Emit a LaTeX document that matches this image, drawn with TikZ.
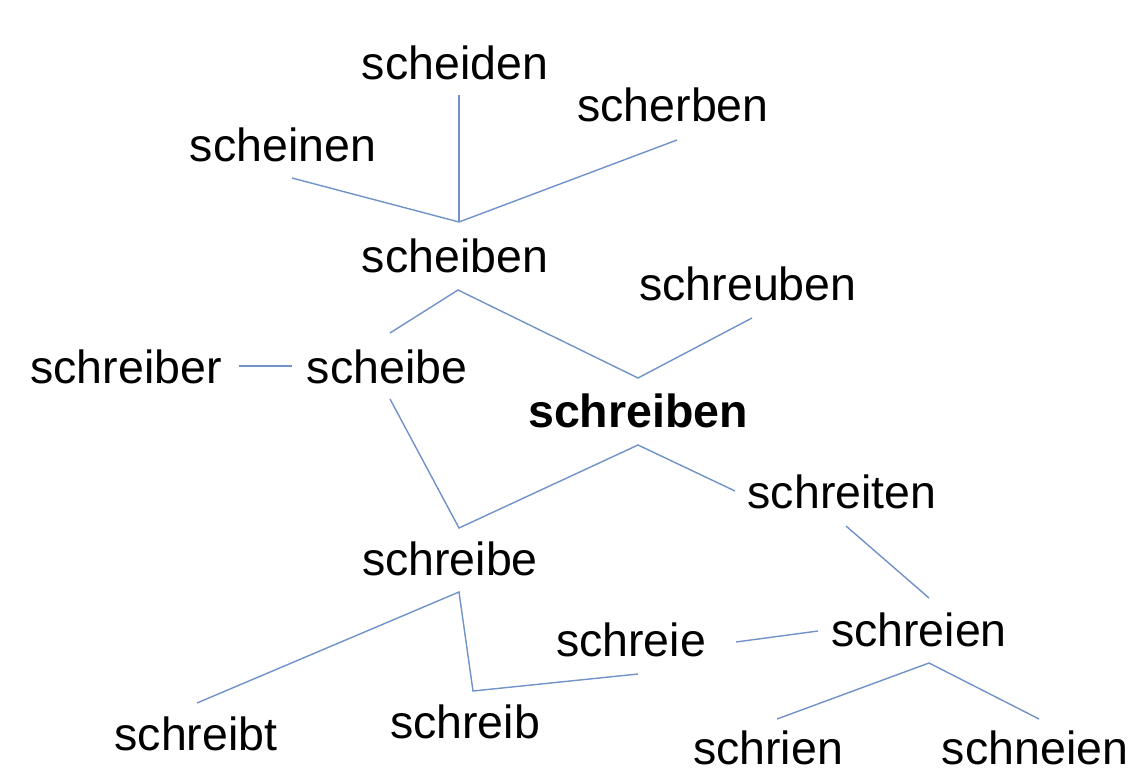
\documentclass[tikz,border=0pt]{standalone}
\usepackage{fontspec}
\setmainfont{Liberation Sans}
\definecolor{linkblue}{RGB}{112,146,200}
\begin{document}
\begin{tikzpicture}[x=1pt,y=-1pt,
  word/.style={anchor=base,inner sep=0pt,font=\fontsize{46.5}{56}\selectfont},
  link/.style={draw=linkblue,line width=1.4pt}]
\useasboundingbox (0,0) rectangle (1130,773);
% words
\node[word] (scheiden)  at (455,80)  {scheiden};
\node[word] (scherben)  at (673,122) {scherben};
\node[word] (scheinen)  at (283,161) {scheinen};
\node[word] (scheiben)  at (455,272) {scheiben};
\node[word] (schreuben) at (748,300) {schreuben};
\node[word] (schreiber) at (126,383) {schreiber};
\node[word] (scheibe)   at (387,383) {scheibe};
\node[word,font=\fontsize{46.5}{56}\selectfont\bfseries] (schreiben) at (638,427) {schreiben};
\node[word] (schreiten) at (842,508) {schreiten};
\node[word] (schreibe)  at (450,575) {schreibe};
\node[word] (schreie)   at (631,656) {schreie};
\node[word] (schreien)  at (919,646) {schreien};
\node[word] (schreibt)  at (196,750) {schreibt};
\node[word] (schreib)   at (465,738) {schreib};
\node[word] (schrien)   at (768,764) {schrien};
\node[word] (schneien)  at (1035,764) {schneien};
% connector ends
\coordinate (jA) at (459,222);
\coordinate (eScheiden) at (459,95);
\coordinate (eScheinen) at (292,178);
\coordinate (eScherben) at (677,140);
\coordinate (jB) at (458,290);
\coordinate (eScheibeU) at (390,333);
\coordinate (jC) at (638,378);
\coordinate (eSchreuben) at (752,318);
\coordinate (eSchreiber) at (239,366);
\coordinate (eScheibeL) at (292,366);
\coordinate (eScheibeD) at (390,399);
\coordinate (jD) at (459,528);
\coordinate (jE) at (638,445);
\coordinate (eSchreitenL) at (735,491);
\coordinate (eSchreitenD) at (846,526);
\coordinate (eSchreienU) at (929,598);
\coordinate (jF) at (459,592);
\coordinate (eSchreibt) at (197,703);
\coordinate (jG) at (473,691);
\coordinate (eSchreieL) at (638,674);
\coordinate (eSchreieR) at (736,642);
\coordinate (eSchreienL) at (818,631);
\coordinate (jH) at (929,663);
\coordinate (eSchrien) at (777,719);
\coordinate (eSchneien) at (1039,719);
% connectors
\draw[link] (eScheiden) -- (jA);
\draw[link] (eScheinen) -- (jA) -- (eScherben);
\draw[link] (eScheibeU) -- (jB) -- (jC) -- (eSchreuben);
\draw[link] (eSchreiber) -- (eScheibeL);
\draw[link] (eScheibeD) -- (jD) -- (jE) -- (eSchreitenL);
\draw[link] (eSchreitenD) -- (eSchreienU);
\draw[link] (eSchreibt) -- (jF) -- (jG) -- (eSchreieL);
\draw[link] (eSchreieR) -- (eSchreienL);
\draw[link] (eSchrien) -- (jH) -- (eSchneien);
\end{tikzpicture}
\end{document}
